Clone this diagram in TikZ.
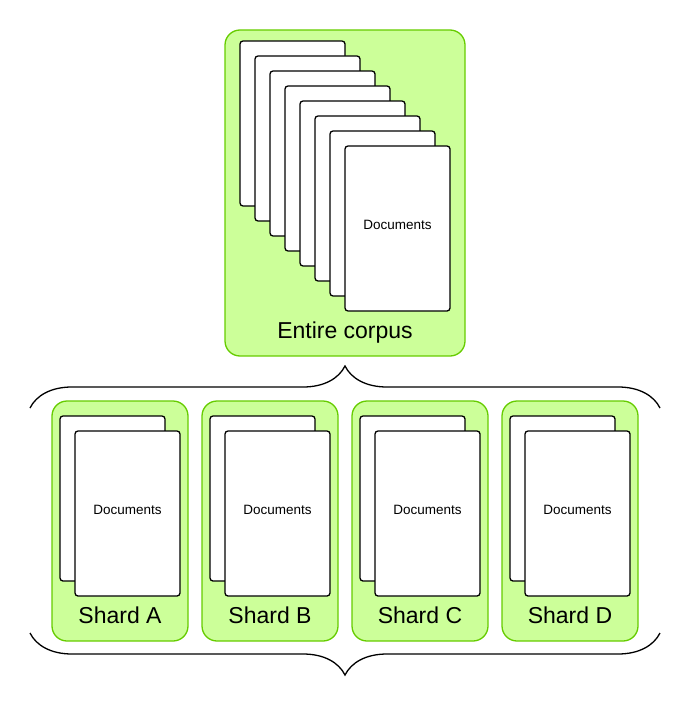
\documentclass[tikz,border=0pt]{standalone}
\usepackage{fontspec}
\setmainfont{Liberation Sans}
\usetikzlibrary{positioning,calc,decorations.pathreplacing}
\definecolor{leaf}{HTML}{CCFF99}
\definecolor{stem}{HTML}{66CC00}
\tikzset{
  groupbox/.style={
    rectangle, draw=stem, fill=leaf, line width=1.3pt,
    rounded corners=15pt, inner sep=0pt
  },
  pagebox/.style={
    rectangle, draw=black, fill=white, line width=1.3pt,
    rounded corners=3pt, inner sep=0pt,
    minimum width=105pt, minimum height=165pt, text depth=7pt,
    font=\fontsize{13.5}{15}\selectfont
  },
  biglabel/.style={font=\fontsize{23}{27}\selectfont},
  bracket/.style={
    decorate, decoration={brace, amplitude=42pt, #1}, line width=1.3pt
  },
  bracket/.default={},
}
\begin{document}
\begin{tikzpicture}[x=1pt, y=-1pt]
\useasboundingbox (0,0) rectangle (690,701);
% whole collection
\node[groupbox, minimum width=240pt, minimum height=326pt] (corpus) at (345,193) {};
\foreach \i in {0,...,6}
  \node[pagebox] (doc\i) at (292.5+15*\i, 123.5+15*\i) {};
\node[pagebox] (doc7) at (397.5,228.5) {Documents};
\node[biglabel] (corpuslabel) at (345,332.5) {Entire corpus};
% split into shards
\foreach \s [count=\i from 0] in {A,B,C,D} {
  \node[groupbox, minimum width=136pt, minimum height=240pt] (shard\s) at (120+150*\i, 521) {};
  \node[pagebox] (back\s) at (112.5+150*\i, 498.5) {};
  \node[pagebox] (front\s) at (127.5+150*\i, 513.5) {Documents};
  \node[biglabel] (label\s) at (120+150*\i, 615) {Shard \s};
}
\coordinate (topL) at (30,408);
\coordinate (topR) at (660,408);
\coordinate (botL) at (30,633);
\coordinate (botR) at (660,633);
\draw[bracket] (topL) -- (topR);
\draw[bracket=mirror] (botL) -- (botR);
\end{tikzpicture}
\end{document}
